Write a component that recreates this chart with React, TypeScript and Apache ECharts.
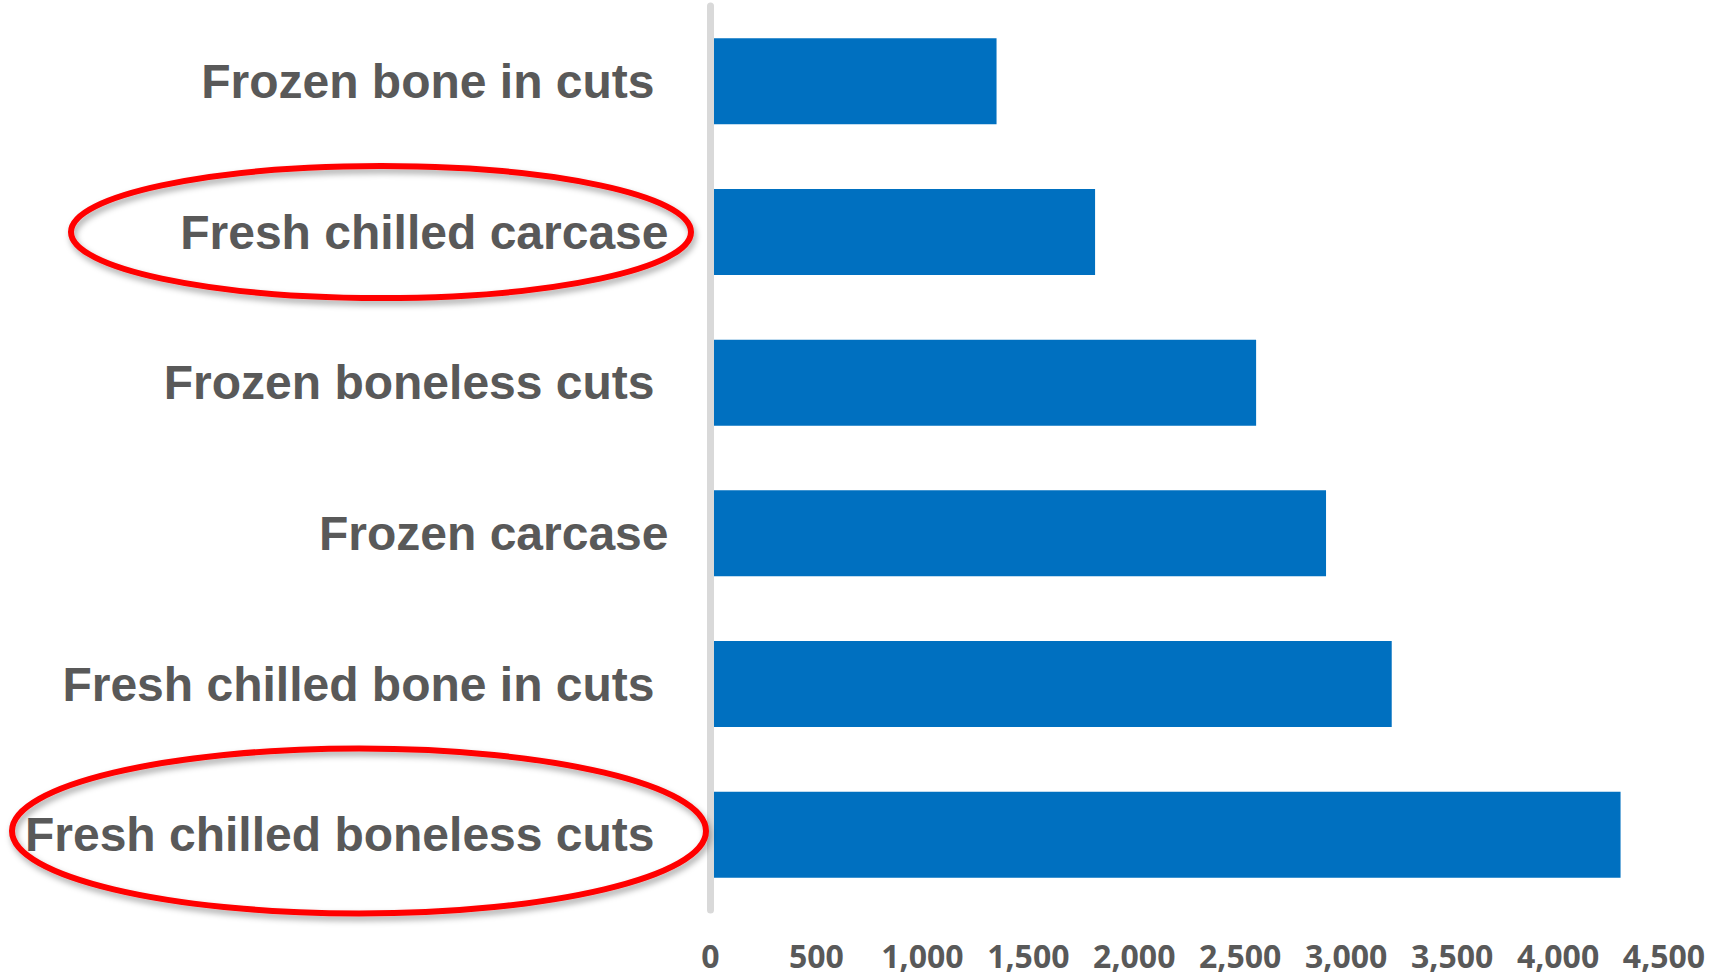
import React, { useEffect, useRef } from "react";
import * as echarts from "echarts";

const categories: string[] = [
  "Frozen bone in cuts",
  "Fresh chilled carcase",
  "Frozen boneless cuts",
  "Frozen carcase",
  "Fresh chilled bone in cuts",
  "Fresh chilled boneless cuts",
];

const values: number[] = [1350, 1815, 2575, 2905, 3215, 4295];

// categories whose labels sit a little closer to the axis in the reference
const closerLabels: string[] = ["Fresh chilled carcase", "Frozen carcase"];

const tickMin = 0;
const tickMax = 4500;
const tickStep = 500;

export default function App() {
  const ref = useRef<HTMLDivElement>(null);

  useEffect(() => {
    if (!ref.current) return;
    const chart = echarts.init(ref.current, undefined, { renderer: "svg" });

    const gridLeft = 710.5;
    const gridTop = 6;
    const gridBottom = 67;
    const gridRight = 59;

    const yData = categories.map((c) =>
      closerLabels.includes(c)
        ? { value: c }
        : { value: c, textStyle: { padding: [0, 14, 0, 0] } }
    );

    const ellipseStyle = {
      fill: "none",
      stroke: "#ff0000",
      lineWidth: 6,
      shadowBlur: 6,
      shadowOffsetX: 2,
      shadowOffsetY: 4,
      shadowColor: "rgba(0,0,0,0.35)",
    };

    chart.setOption({
      animation: false,
      backgroundColor: "#ffffff",
      grid: {
        left: gridLeft,
        right: gridRight,
        top: gridTop,
        bottom: gridBottom,
        outerBoundsMode: "none",
        containLabel: false,
      },
      xAxis: {
        type: "value",
        min: tickMin,
        max: tickMax,
        interval: tickStep,
        axisLine: { show: false },
        axisTick: { show: false },
        splitLine: { show: false },
        axisLabel: {
          margin: 29,
          color: "#595959",
          fontFamily: "'Open Sans', 'Noto Sans', sans-serif",
          fontWeight: "bold",
          fontSize: 32,
          lineHeight: 32,
          formatter: (v: number) => v.toLocaleString("en-US"),
        },
      },
      yAxis: {
        type: "category",
        inverse: true,
        data: yData,
        z: 5,
        axisLine: { show: true, lineStyle: { color: "#d9d9d9", width: 7 } },
        axisTick: { show: false },
        splitLine: { show: false },
        axisLabel: {
          margin: 42,
          color: "#595959",
          fontFamily: "'Liberation Sans', Arial, sans-serif",
          fontWeight: "bold",
          fontSize: 48,
        },
      },
      series: [
        {
          type: "bar",
          data: values,
          barWidth: 86,
          itemStyle: { color: "#0070C0" },
          z: 2,
        },
      ],
      graphic: [
        {
          type: "ellipse",
          shape: { cx: 381, cy: 232, rx: 310, ry: 66 },
          style: ellipseStyle,
          z: 10,
        },
        {
          type: "ellipse",
          shape: { cx: 359, cy: 831, rx: 347, ry: 82.5 },
          style: ellipseStyle,
          z: 10,
        },
      ],
    });

    return () => chart.dispose();
  }, []);

  return (
    <div
      ref={ref}
      style={{ position: "fixed", left: 0, top: 0, width: 1723, height: 977 }}
    />
  );
}
